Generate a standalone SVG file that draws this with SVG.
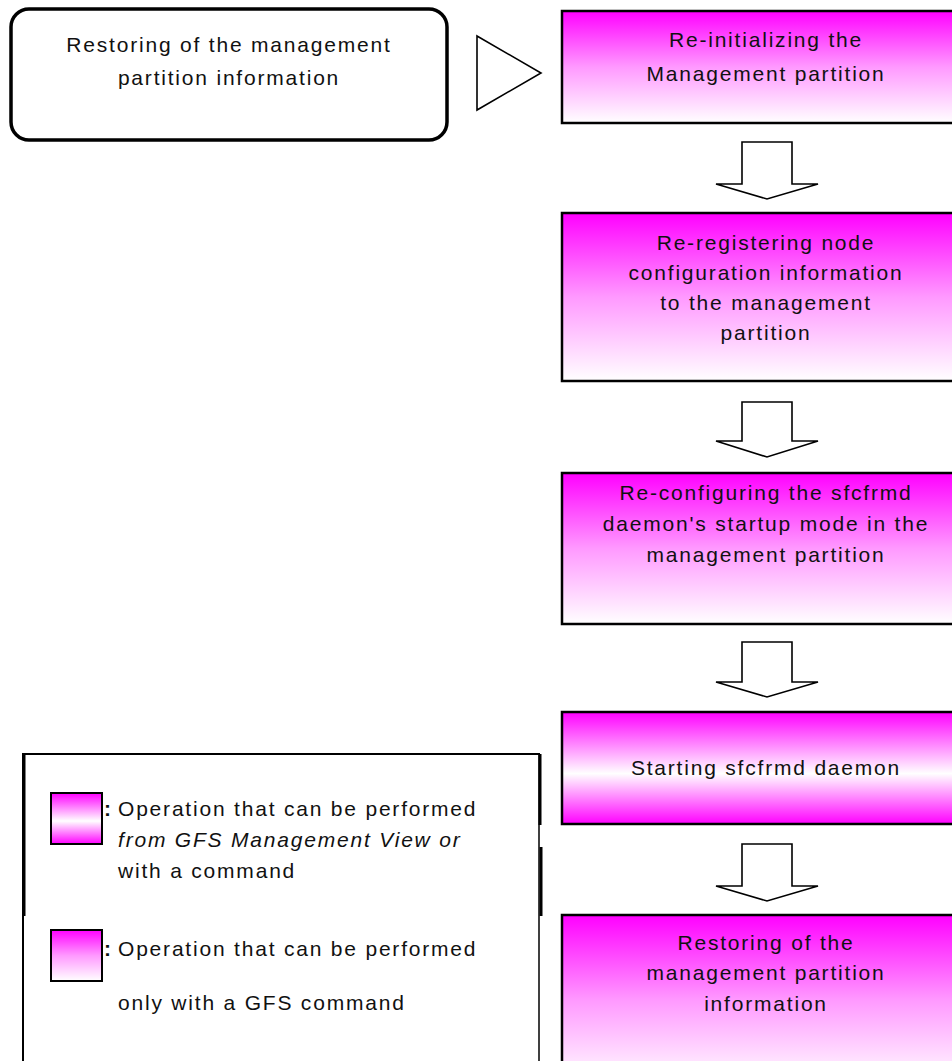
<svg xmlns="http://www.w3.org/2000/svg" width="952" height="1061" viewBox="0 0 952 1061">
  <defs>
    <!-- magenta fading to white, top to bottom -->
    <linearGradient id="fadeDown" x1="0" y1="0" x2="0" y2="1">
      <stop offset="0" stop-color="#ff00ff"/>
      <stop offset="0.5" stop-color="#ff99ff"/>
      <stop offset="1" stop-color="#ffffff"/>
    </linearGradient>
    <!-- magenta at both edges, white band in the middle -->
    <linearGradient id="fadeMid" x1="0" y1="0" x2="0" y2="1">
      <stop offset="0" stop-color="#ff00ff"/>
      <stop offset="0.55" stop-color="#ffffff"/>
      <stop offset="1" stop-color="#ff00ff"/>
    </linearGradient>
    <style>
      .lbl { font-family: "Liberation Sans", Arial, sans-serif; font-size: 21px; fill: #111; letter-spacing: 1.8px; }
      .mid { text-anchor: middle; }
      .it { font-style: italic; }
      .step { stroke: #000; stroke-width: 2.5; }
      .flow { fill: #fff; stroke: #000; stroke-width: 1.6; stroke-linejoin: miter; }
      .frame { fill: none; stroke: #000; }
    </style>
  </defs>

  <rect width="952" height="1061" fill="#fff"/>

  <!-- summary step on the left -->
  <g id="summary">
    <rect x="11" y="9" width="436" height="131" rx="18" ry="18" fill="#fff" stroke="#000" stroke-width="3.5"/>
    <text class="lbl mid" x="229" y="52">Restoring of the management</text>
    <text class="lbl mid" x="229" y="85">partition information</text>
  </g>

  <!-- connectors -->
  <g id="connectors">
    <polygon class="flow" points="477,36 541,73 477,110"/>
    <polygon class="flow" points="742,142 792,142 792,184 818,184 767,199 716,184 742,184"/>
    <polygon class="flow" points="742,402 792,402 792,441 818,441 767,457 716,441 742,441"/>
    <polygon class="flow" points="742,642 792,642 792,682 818,682 767,697 716,682 742,682"/>
    <polygon class="flow" points="742,844 792,844 792,886 818,886 767,901 716,886 742,886"/>
  </g>

  <g id="step1">
    <rect class="step" x="562" y="11" width="420" height="112" fill="url(#fadeDown)"/>
    <text class="lbl mid" x="766" y="47">Re-initializing the</text>
    <text class="lbl mid" x="766" y="81">Management partition</text>
  </g>

  <g id="step2">
    <rect class="step" x="562" y="213" width="420" height="168" fill="url(#fadeDown)"/>
    <text class="lbl mid" x="766" y="250">Re-registering node</text>
    <text class="lbl mid" x="766" y="280">configuration information</text>
    <text class="lbl mid" x="766" y="310">to the management</text>
    <text class="lbl mid" x="766" y="340">partition</text>
  </g>

  <g id="step3">
    <rect class="step" x="562" y="473" width="420" height="151" fill="url(#fadeDown)"/>
    <text class="lbl mid" x="766" y="500">Re-configuring the sfcfrmd</text>
    <text class="lbl mid" x="766" y="531">daemon's startup mode  in the</text>
    <text class="lbl mid" x="766" y="562">management partition</text>
  </g>

  <g id="step4">
    <rect class="step" x="562" y="712" width="420" height="112" fill="url(#fadeMid)"/>
    <text class="lbl mid" x="766" y="775">Starting sfcfrmd daemon</text>
  </g>

  <g id="step5">
    <rect class="step" x="562" y="915" width="420" height="170" fill="url(#fadeDown)"/>
    <text class="lbl mid" x="766" y="950">Restoring of the</text>
    <text class="lbl mid" x="766" y="980">management partition</text>
    <text class="lbl mid" x="766" y="1011">information</text>
  </g>

  <!-- key -->
  <g id="legend">
    <path class="frame" stroke-width="2" d="M23,1061 V754 H540"/>
    <path class="frame" stroke-width="1.5" d="M539,754 V1061"/>
    <path class="frame" stroke-width="3" d="M540,754 V825 M541,847 V916"/>
    <path class="frame" stroke-width="3" d="M24,754 V916"/>
    <rect x="51" y="793" width="51" height="51" fill="url(#fadeMid)" stroke="#000" stroke-width="2"/>
    <rect x="51" y="930" width="51" height="51" fill="url(#fadeDown)" stroke="#000" stroke-width="2"/>
    <text class="lbl" x="104" y="816" font-weight="bold">:</text>
    <text class="lbl" x="118" y="816">Operation that can be performed</text>
    <text class="lbl it" x="118" y="847">from GFS Management View or</text>
    <text class="lbl" x="118" y="878">with a command</text>
    <text class="lbl" x="104" y="956" font-weight="bold">:</text>
    <text class="lbl" x="118" y="956">Operation that can be performed</text>
    <text class="lbl" x="118" y="1010">only with a GFS command</text>
  </g>
</svg>
